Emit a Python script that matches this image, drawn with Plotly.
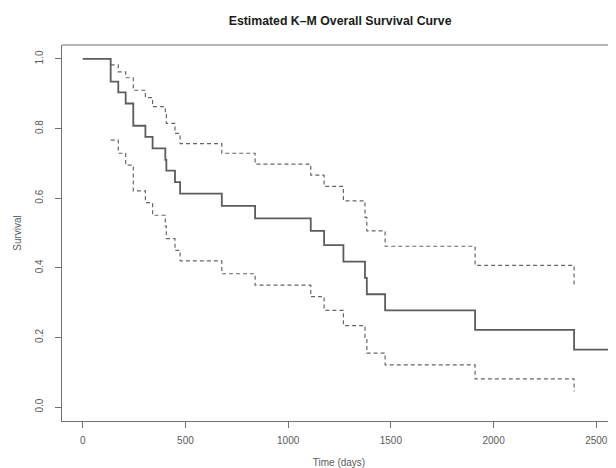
import plotly.graph_objects as go

# Kaplan-Meier estimate
time_km = [0, 136, 173, 209, 246, 305, 340, 402, 407, 449, 474, 677, 839,
           1110, 1175, 1269, 1374, 1383, 1472, 1910, 2392, 2610]
surv_km = [1.0, 0.935, 0.904, 0.872, 0.808, 0.776, 0.743, 0.710, 0.679, 0.646,
           0.613, 0.578, 0.542, 0.506, 0.465, 0.418, 0.371, 0.324, 0.278,
           0.222, 0.165, 0.165]

# Confidence band (dashed)
time_ci = [136, 173, 209, 246, 305, 340, 402, 407, 449, 474, 677, 839,
           1110, 1175, 1269, 1374, 1383, 1472, 1910, 2392]
upper_ci = [0.983, 0.963, 0.946, 0.910, 0.889, 0.863, 0.840, 0.815, 0.786,
            0.757, 0.729, 0.698, 0.666, 0.634, 0.592, 0.545, 0.506, 0.462,
            0.407, 0.349]
lower_ci = [0.767, 0.729, 0.695, 0.621, 0.587, 0.551, 0.520, 0.484, 0.450,
            0.420, 0.383, 0.350, 0.317, 0.278, 0.234, 0.200, 0.155, 0.121,
            0.081, 0.045]

x_ticks = [0, 500, 1000, 1500, 2000, 2500]
y_ticks = [0.0, 0.2, 0.4, 0.6, 0.8, 1.0]

LINE = "#5c5c5c"
DASH = "#666666"
AX = "#707070"
TXT = "#5a5a5a"
FONT = "Liberation Sans, Arial, Helvetica, sans-serif"

# the page body keeps an 8px margin, so the figure is 8px smaller than the window
W, H = 608, 460

fig = go.Figure()
fig.add_trace(go.Scatter(x=time_ci, y=upper_ci, mode="lines", line_shape="hv",
                         line=dict(color=DASH, width=1.2, dash="4px,3px"),
                         showlegend=False, hoverinfo="skip"))
fig.add_trace(go.Scatter(x=time_ci, y=lower_ci, mode="lines", line_shape="hv",
                         line=dict(color=DASH, width=1.2, dash="4px,3px"),
                         showlegend=False, hoverinfo="skip"))
fig.add_trace(go.Scatter(x=time_km, y=surv_km, mode="lines", line_shape="hv",
                         line=dict(color=LINE, width=1.8),
                         showlegend=False, hoverinfo="skip"))

fig.update_layout(
    width=W, height=H,
    margin=dict(l=54, r=0, t=37, b=47, autoexpand=False),
    paper_bgcolor="white", plot_bgcolor="white",
    font=dict(family=FONT, size=10, color=TXT),
    title=dict(text="<b>Estimated K\u2013M Overall Survival Curve</b>",
               x=0.502, xref="paper", xanchor="center",
               y=1 - 13 / H, yref="container", yanchor="middle",
               automargin=False,
               font=dict(family=FONT, size=12.3, color="#1a1a1a")),
    xaxis=dict(range=[-101, 2596], tickvals=x_ticks, ticks="outside",
               ticklen=6, tickwidth=1, tickcolor=AX, showgrid=False,
               zeroline=False, showline=True, linecolor=AX, linewidth=1.2,
               ticklabelstandoff=4, automargin=False,
               tickfont=dict(size=10, color=TXT),
               title=dict(text="Time (days)", standoff=25,
                          font=dict(size=10, color=TXT))),
    yaxis=dict(range=[-0.04, 1.04], tickvals=y_ticks, tickformat=".1f",
               ticks="outside", ticklen=6, tickwidth=1, tickcolor=AX,
               showgrid=False, zeroline=False, showline=True, linecolor=AX,
               linewidth=1.2, tickangle=-90, ticklabelstandoff=8,
               automargin=False,
               tickfont=dict(size=10, color=TXT),
               title=dict(text="Survival", standoff=10,
                          font=dict(size=10, color=TXT))),
    shapes=[dict(type="line", xref="paper", yref="paper", x0=0, x1=1,
                 y0=1, y1=1, line=dict(color=AX, width=1.2))],
)

fig.write_html("out.html")
